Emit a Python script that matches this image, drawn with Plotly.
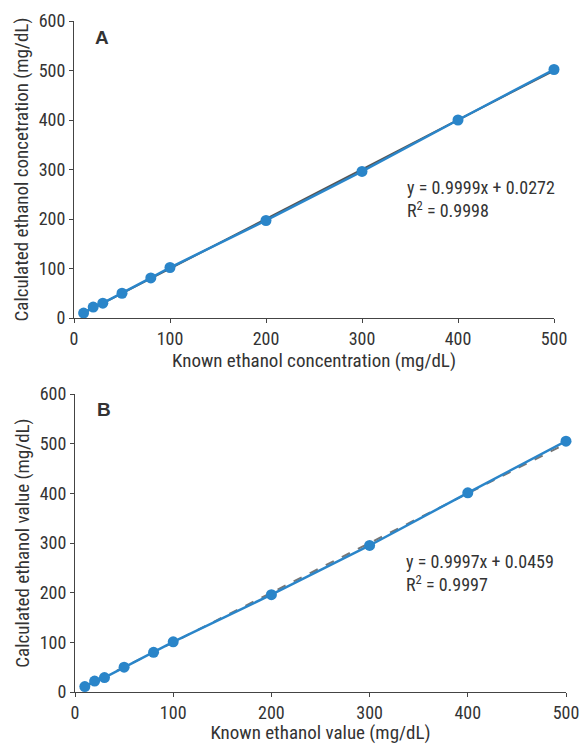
import plotly.graph_objects as go

known = [10, 20, 30, 50, 80, 100, 200, 300, 400, 500]
calc_a = [10, 22, 30, 50, 81, 102, 197, 296, 400, 502]
calc_b = [11, 22, 29, 50, 80, 101, 196, 295, 401, 505]
slope_a, icpt_a, r2_a = 0.9999, 0.0272, 0.9998
slope_b, icpt_b, r2_b = 0.9997, 0.0459, 0.9997
trend_x = [10, 500]

FONT = "Liberation Sans Narrow, Roboto Condensed, Arial Narrow, sans-serif"
BLUE = "#2a85c9"
TXT = "#333333"

fig = go.Figure()
# panel A
fig.add_trace(go.Scatter(x=trend_x, y=[slope_a * v + icpt_a for v in trend_x], mode="lines",
                         line=dict(color="#555555", width=2), xaxis="x", yaxis="y", showlegend=False,
                         cliponaxis=False))
fig.add_trace(go.Scatter(x=known, y=calc_a, mode="lines+markers",
                         line=dict(color=BLUE, width=2.5), marker=dict(color=BLUE, size=11),
                         xaxis="x", yaxis="y", showlegend=False, cliponaxis=False))
# panel B
fig.add_trace(go.Scatter(x=trend_x, y=[slope_b * v + icpt_b for v in trend_x], mode="lines",
                         line=dict(color="#777777", width=2, dash="dash"), xaxis="x2", yaxis="y2",
                         showlegend=False, cliponaxis=False))
fig.add_trace(go.Scatter(x=known, y=calc_b, mode="lines+markers",
                         line=dict(color=BLUE, width=2.5), marker=dict(color=BLUE, size=11),
                         xaxis="x2", yaxis="y2", showlegend=False, cliponaxis=False))

W, H = 580, 744
def dx(p):
    return p / W
def dy(p):
    return 1 - p / H

axis_common = dict(showgrid=False, zeroline=False, showline=True, linecolor="#444444", linewidth=1.2,
                   ticks="outside", ticklen=4, tickcolor="#444444", tickwidth=1.2, automargin=False,
                   ticklabeloverflow="allow",
                   tickfont=dict(family=FONT, size=18, color=TXT), dtick=100)
title_font = dict(family=FONT, size=19, color=TXT)

fig.update_layout(
    width=W, height=H, margin=dict(l=0, r=0, t=0, b=0),
    plot_bgcolor="white", paper_bgcolor="white",
    font=dict(family=FONT, color=TXT),
    xaxis=dict(axis_common, domain=[dx(74), dx(554)], anchor="y", range=[0, 500],
               title=dict(text="Known ethanol concentration (mg/dL)", font=title_font, standoff=3)),
    yaxis=dict(axis_common, domain=[dy(318), dy(21)], anchor="x", range=[0, 600],
               title=dict(text="Calculated ethanol concetration (mg/dL)", font=title_font, standoff=4)),
    xaxis2=dict(axis_common, domain=[dx(75), dx(566)], anchor="y2", range=[0, 500],
                title=dict(text="Known ethanol value (mg/dL)", font=title_font, standoff=4)),
    yaxis2=dict(axis_common, domain=[dy(692), dy(394)], anchor="x2", range=[0, 600],
                title=dict(text="Calculated ethanol value (mg/dL)", font=title_font, standoff=4)),
)

ann_font = dict(family=FONT, size=18, color=TXT)
fig.add_annotation(x=0.04, y=0.985, xref="x domain", yref="y domain", text="<b>A</b>", showarrow=False,
                   xanchor="left", yanchor="top", font=dict(family="Liberation Sans, Arial, sans-serif", size=19, color=TXT))
fig.add_annotation(x=0.04, y=0.99, xref="x2 domain", yref="y2 domain", text="<b>B</b>", showarrow=False,
                   xanchor="left", yanchor="top", font=dict(family="Liberation Sans, Arial, sans-serif", size=19, color=TXT))
fig.add_annotation(x=0.69, y=0.48, xref="x domain", yref="y domain",
                   text=f"y = {slope_a}x + {icpt_a}<br>R<sup>2</sup> = {r2_a}", showarrow=False,
                   xanchor="left", yanchor="top", align="left", font=ann_font)
fig.add_annotation(x=0.67, y=0.48, xref="x2 domain", yref="y2 domain",
                   text=f"y = {slope_b}x + {icpt_b}<br>R<sup>2</sup> = {r2_b}", showarrow=False,
                   xanchor="left", yanchor="top", align="left", font=ann_font)

fig.write_html("out.html", config={"displayModeBar": False},
               post_script="document.body.style.margin='0';document.body.style.overflow='hidden';")
